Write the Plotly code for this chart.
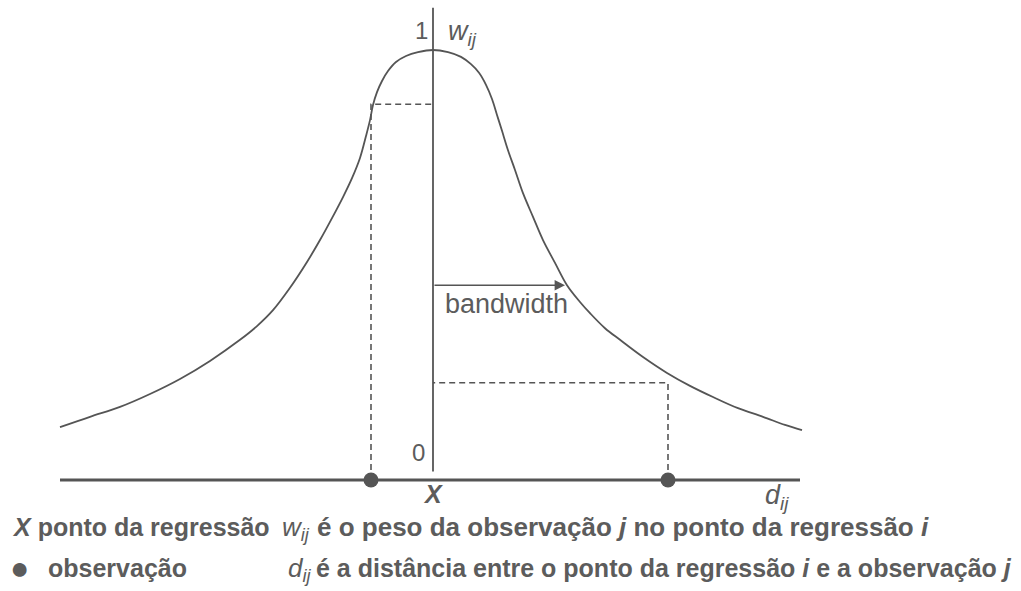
import plotly.graph_objects as go

# Kernel weighting curve: distance from the regression point (d) and weight (w)
dist_left = [-3.73, -3.43, -3.13, -2.83, -2.53, -2.23, -1.93, -1.76, -1.60, -1.43, -1.26, -1.13,
             -1.01, -0.90, -0.81, -0.73, -0.67, -0.63, -0.60, -0.56, -0.51, -0.45, -0.37, -0.27,
             -0.15, 0.0]
weight_left = [0.123, 0.147, 0.170, 0.200, 0.235, 0.277, 0.326, 0.358, 0.395, 0.447, 0.507, 0.558,
               0.609, 0.658, 0.702, 0.749, 0.800, 0.837, 0.872, 0.902, 0.928, 0.951, 0.972, 0.986,
               0.995, 1.0]
dist_right = [0.15, 0.28, 0.38, 0.46, 0.53, 0.59, 0.64, 0.69, 0.75, 0.82, 0.90, 1.00, 1.10, 1.22,
              1.34, 1.47, 1.57, 1.72, 1.87, 2.10, 2.34, 2.57, 2.80, 3.05, 3.30, 3.52, 3.69]
weight_right = [0.995, 0.984, 0.967, 0.947, 0.919, 0.886, 0.849, 0.812, 0.767, 0.721, 0.667, 0.612,
                0.558, 0.505, 0.453, 0.414, 0.388, 0.353, 0.326, 0.286, 0.249, 0.219, 0.193, 0.167,
                0.147, 0.128, 0.116]

# Two observations and the weights they receive
obs_dist = [-0.62, 2.35]
obs_weight = [0.874, 0.226]

# Bandwidth arrow
bandwidth = 1.32
bandwidth_level = 0.453

# Extent of the distance axis and the weight axis
d_axis = [-3.73, 3.67]
w_axis = [0.02, 1.098]

W, H = 1021, 591
X0, PX_PER_D = 433, 100.0
Y0, PX_PER_W = 480, 430.0


def dx(px):
    return (px - X0) / PX_PER_D


def wy(py):
    return (Y0 - py) / PX_PER_W


INK = "#555555"
TXT = "#5c5c5c"
FONT = "Liberation Sans, Arial, sans-serif"

fig = go.Figure()

# distance axis (thick) and weight axis
fig.add_trace(go.Scatter(x=d_axis, y=[0, 0], mode="lines",
                         line=dict(color=INK, width=3.2), hoverinfo="skip"))
fig.add_trace(go.Scatter(x=[0, 0], y=w_axis, mode="lines",
                         line=dict(color=INK, width=1.8), hoverinfo="skip"))

# weighting curve
fig.add_trace(go.Scatter(x=dist_left + dist_right, y=weight_left + weight_right,
                         mode="lines", line=dict(color=INK, width=1.8, shape="spline", smoothing=1.0),
                         hoverinfo="skip"))

# dashed guides from each observation to its weight
for d, w in zip(obs_dist, obs_weight):
    fig.add_trace(go.Scatter(x=[d, d, 0], y=[0, w, w], mode="lines",
                             line=dict(color=INK, width=1.6, dash="6px,4px"), hoverinfo="skip"))

# observations
fig.add_trace(go.Scatter(x=obs_dist, y=[0, 0], mode="markers",
                         marker=dict(color=INK, size=15, line=dict(width=0)), hoverinfo="skip"))

annotations = []

# bandwidth arrow
annotations.append(dict(x=bandwidth, y=bandwidth_level, ax=0, ay=bandwidth_level,
                        xref="x", yref="y", axref="x", ayref="y", text="",
                        showarrow=True, arrowhead=2, arrowsize=1.3, arrowwidth=1.6,
                        arrowcolor=INK))


def label(px, py, text, size=22, anchor="center"):
    annotations.append(dict(x=dx(px), y=wy(py), xref="x", yref="y", text=text,
                            showarrow=False, xanchor=anchor, yanchor="middle",
                            font=dict(family=FONT, size=size, color=TXT)))


label(506, 304, "bandwidth", 27)
label(421, 30, "1", 24)
label(446, 33, "<i>w</i><sub><i>ij</i></sub>", 27, "left")
label(418, 452, "0", 24)
label(433, 494, "<b><i>X</i></b>", 25)
label(763, 497, "<i>d</i><sub><i>ij</i></sub>", 27, "left")

# legend rows
label(10, 527, "<b><i>X</i> ponto da regressão</b>", 25, "left")
label(280, 528, "<i>w</i><sub><i>ij</i></sub>", 26, "left")
label(315, 527, "<b>é o peso da observação <i>j</i> no ponto da regressão <i>i</i></b>", 26, "left")
label(19, 568, "●", 32)
label(46, 568, "<b>observação</b>", 25, "left")
label(286, 569, "<i>d</i><sub><i>ij</i></sub>", 26, "left")
label(314, 568, "<b>é a distância entre o ponto da regressão <i>i</i> e a observação <i>j</i></b>", 25, "left")

fig.update_layout(
    width=W, height=H, autosize=False,
    margin=dict(l=0, r=0, t=0, b=0, pad=0),
    paper_bgcolor="white", plot_bgcolor="white",
    showlegend=False,
    xaxis=dict(range=[dx(0), dx(W)], visible=False, fixedrange=True),
    yaxis=dict(range=[wy(H), wy(0)], visible=False, fixedrange=True),
    annotations=annotations,
)

fig.write_html("out.html")
